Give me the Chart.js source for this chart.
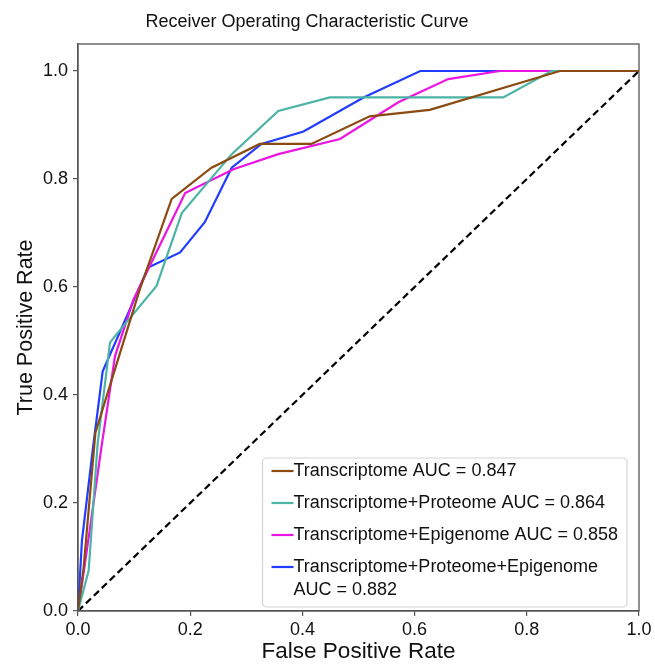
<!DOCTYPE html>
<html>
<head>
<meta charset="utf-8">
<script src="https://cdn.jsdelivr.net/npm/chart.js@4.4.1/dist/chart.umd.min.js"></script>
<style>
  html, body { margin: 0; padding: 0; background: #ffffff; }
  #wrap { width: 655px; height: 665px; }
</style>
</head>
<body>
<div id="wrap"><canvas id="rocChart" width="655" height="665"></canvas></div>
<script>
// ===================================
// DATA
// ===================================

const chartTitle = 'Receiver Operating Characteristic Curve';

const seriesLabels = [
    'Transcriptome AUC = 0.847',
    'Transcriptome+Proteome AUC = 0.864',
    'Transcriptome+Epigenome AUC = 0.858',
    'Transcriptome+Proteome+Epigenome\nAUC = 0.882'
];
const seriesColors = ['#8b4a12', '#4db3a5', '#ec14e2', '#1f3cff'];

// Transcriptome
const transFpr = [0, 0.01, 0.031, 0.066, 0.11, 0.167, 0.238, 0.324, 0.416, 0.52, 0.627, 0.859, 1.0];
const transTpr = [0, 0.08, 0.33, 0.448, 0.595, 0.763, 0.821, 0.865, 0.865, 0.916, 0.928, 1.0, 1.0];

// Transcriptome+Proteome
const transProtFpr = [0, 0.019, 0.035, 0.057, 0.066, 0.14, 0.185, 0.274, 0.357, 0.449, 0.758, 0.844, 1.0];
const transProtTpr = [0, 0.075, 0.31, 0.497, 0.509, 0.602, 0.737, 0.846, 0.926, 0.951, 0.951, 1.0, 1.0];

// Transcriptome+Epigenome
const transEpiFpr = [0, 0.004, 0.016, 0.042, 0.066, 0.099, 0.191, 0.277, 0.357, 0.467, 0.571, 0.66, 0.752, 1.0];
const transEpiTpr = [0, 0.027, 0.114, 0.305, 0.472, 0.577, 0.774, 0.818, 0.846, 0.874, 0.942, 0.985, 1.0, 1.0];

// Transcriptome+Proteome+Epigenome
const allFpr = [0, 0.007, 0.027, 0.044, 0.125, 0.182, 0.226, 0.274, 0.327, 0.402, 0.509, 0.61, 1.0];
const allTpr = [0, 0.13, 0.305, 0.444, 0.636, 0.664, 0.72, 0.821, 0.865, 0.888, 0.951, 1.0, 1.0];

// chance line
const diagFpr = [0, 1];
const diagTpr = [0, 1];

const xTickValues = [0, 0.2, 0.4, 0.6, 0.8, 1.0];
const yTickValues = [0, 0.2, 0.4, 0.6, 0.8, 1.0];

const FONT = '"Liberation Sans", Arial, Helvetica, sans-serif';

// ===================================
// HELPERS
// ===================================

function toPoints(xs, ys) {
    return xs.map((x, i) => ({ x: x, y: ys[i] }));
}

function curve(label, color, xs, ys) {
    return {
        label: label,
        data: toPoints(xs, ys),
        showLine: true,
        borderColor: color,
        backgroundColor: color,
        borderWidth: 2.2,
        pointRadius: 0,
        tension: 0,
        fill: false
    };
}

// figure title, sits a little left of the plot centre like the original
const figTitlePlugin = {
    id: 'figTitle',
    afterDraw(chart) {
        const { ctx } = chart;
        ctx.save();
        ctx.font = '18px ' + FONT;
        ctx.fillStyle = '#111';
        ctx.textAlign = 'center';
        ctx.textBaseline = 'middle';
        ctx.fillText(chartTitle, 307, 22);
        ctx.restore();
    }
};

// full box around the plot (matplotlib spines)
const framePlugin = {
    id: 'frame',
    afterDatasetsDraw(chart) {
        const { ctx, chartArea: a } = chart;
        ctx.save();
        ctx.strokeStyle = '#555';
        ctx.lineWidth = 1.3;
        ctx.strokeRect(a.left, a.top, a.right - a.left, a.bottom - a.top);
        ctx.restore();
    }
};

// legend box in the lower right corner, with a wrapped last entry
const boxLegendPlugin = {
    id: 'boxLegend',
    afterDraw(chart) {
        const { ctx, chartArea: a } = chart;
        const sets = chart.data.datasets.filter(d => !d.hideInLegend);
        const fontSize = 18;
        const rowH = 32;
        const lineGap = 23;
        const sample = 22;
        const pad = 9;
        ctx.save();
        ctx.font = fontSize + 'px ' + FONT;

        let maxW = 0;
        let height = 0;
        sets.forEach(d => {
            const lines = d.label.split('\n');
            lines.forEach(l => { maxW = Math.max(maxW, ctx.measureText(l).width); });
            height += rowH + (lines.length - 1) * lineGap;
        });
        const boxW = pad + sample + maxW + pad;
        const boxH = height - rowH + 30;
        const right = a.right - 12;
        const bottom = a.bottom - 4;
        const left = right - boxW;
        const top = bottom - boxH;

        ctx.fillStyle = 'rgba(255,255,255,0.85)';
        ctx.strokeStyle = '#d4d4d4';
        ctx.lineWidth = 1.2;
        ctx.beginPath();
        ctx.roundRect(left, top, boxW, boxH, 4);
        ctx.fill();
        ctx.stroke();

        let y = top + 13;
        ctx.textBaseline = 'middle';
        ctx.textAlign = 'left';
        sets.forEach(d => {
            const lines = d.label.split('\n');
            ctx.strokeStyle = d.borderColor;
            ctx.lineWidth = 2.2;
            ctx.beginPath();
            ctx.moveTo(left + pad, y);
            ctx.lineTo(left + pad + sample, y);
            ctx.stroke();
            ctx.fillStyle = '#111';
            lines.forEach((l, i) => {
                ctx.fillText(l, left + pad + sample, y + i * lineGap);
            });
            y += rowH + (lines.length - 1) * lineGap;
        });
        ctx.restore();
    }
};

// ===================================
// CHART
// ===================================

const datasets = [
    curve(seriesLabels[0], seriesColors[0], transFpr, transTpr),
    curve(seriesLabels[1], seriesColors[1], transProtFpr, transProtTpr),
    curve(seriesLabels[2], seriesColors[2], transEpiFpr, transEpiTpr),
    curve(seriesLabels[3], seriesColors[3], allFpr, allTpr),
    {
        label: 'chance',
        hideInLegend: true,
        data: toPoints(diagFpr, diagTpr),
        showLine: true,
        borderColor: '#000000',
        borderWidth: 2.2,
        borderDash: [7, 4],
        pointRadius: 0,
        fill: false
    }
];

const ctx = document.getElementById('rocChart').getContext('2d');

new Chart(ctx, {
    type: 'scatter',
    data: { datasets: datasets },
    options: {
        responsive: false,
        animation: false,
        layout: { padding: { left: 0, right: 16, top: 44, bottom: 0 } },
        plugins: {
            legend: { display: false },
            tooltip: { enabled: false },
            title: { display: false }
        },
        scales: {
            x: {
                type: 'linear',
                min: 0,
                max: 1,
                afterBuildTicks: axis => { axis.ticks = xTickValues.map(v => ({ value: v })); },
                afterFit: scale => { scale.height = 54; },
                grid: { drawOnChartArea: false, drawTicks: true, tickLength: 5, color: '#555', lineWidth: 1.2 },
                border: { display: true, color: '#555', width: 1.3 },
                ticks: {
                    font: { family: FONT, size: 18 },
                    color: '#111',
                    padding: 3,
                    maxRotation: 0,
                    autoSkip: false,
                    callback: v => v.toFixed(1)
                },
                title: {
                    display: true,
                    text: 'False Positive Rate',
                    color: '#111',
                    font: { family: FONT, size: 22.5 },
                    padding: { top: 0, bottom: 0 }
                }
            },
            y: {
                type: 'linear',
                min: 0,
                max: 1.05,
                afterBuildTicks: axis => { axis.ticks = yTickValues.map(v => ({ value: v })); },
                afterFit: scale => { scale.width = 78; },
                grid: { drawOnChartArea: false, drawTicks: true, tickLength: 5, color: '#555', lineWidth: 1.2 },
                border: { display: true, color: '#555', width: 1.3 },
                ticks: {
                    font: { family: FONT, size: 18 },
                    color: '#111',
                    padding: 5,
                    autoSkip: false,
                    callback: v => v.toFixed(1)
                },
                title: {
                    display: true,
                    text: 'True Positive Rate',
                    color: '#111',
                    font: { family: FONT, size: 21.5 },
                    padding: { top: 13, bottom: 0 }
                }
            }
        }
    },
    plugins: [framePlugin, boxLegendPlugin, figTitlePlugin]
});
</script>
</body>
</html>
